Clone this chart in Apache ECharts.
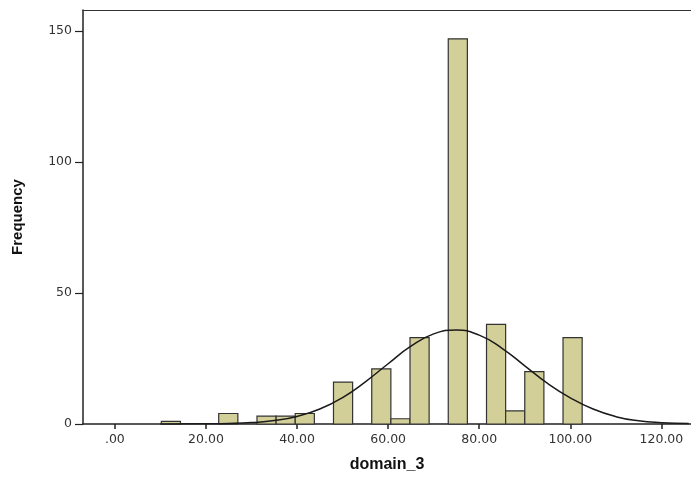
<!DOCTYPE html>
<html>
<head>
<meta charset="utf-8">
<script src="https://cdn.jsdelivr.net/npm/echarts@6/dist/echarts.min.js"></script>
<style>
  html, body { margin: 0; padding: 0; background: #fff; }
  #main { width: 691px; height: 478px; }
</style>
</head>
<body>
<div id="main"></div>
<script>
// histogram bins (start of each bin) and counts
var binWidth = 4.2;
var binStarts = [10.2, 22.8, 31.2, 35.4, 39.6, 48.0, 56.4, 60.6, 64.8, 73.2, 81.6, 85.8, 90.0, 98.4];
var counts    = [1,    4,    3,    3,    4,    16,   21,   2,    33,   147,  38,   5,    20,   33];

// fitted normal curve
var curveX = [10, 20, 25, 30, 35, 40, 45, 50, 55, 60, 65, 70, 75, 80, 85, 90, 95, 100, 105, 110, 115, 120, 126];
var curveY = [0.01, 0.07, 0.2, 0.55, 1.3, 2.9, 5.7, 10.1, 16.1, 23.0, 29.7, 34.4, 35.9, 33.9, 28.9, 22.2, 15.5, 10.0, 5.7, 2.8, 1.2, 0.5, 0.15];

var xTicks = [0, 20, 40, 60, 80, 100, 120];

var barData = binStarts.map(function (s, i) { return [s, s + binWidth, counts[i]]; });
var lineData = curveX.map(function (x, i) { return [x, curveY[i]]; });

var myChart = echarts.init(document.getElementById('main'));
var font = "'DejaVu Sans', sans-serif";

var option = {
    animation: false,
    grid: { left: 83, top: 10, right: 0, bottom: 53 },
    xAxis: [{
        type: 'value',
        min: -7, max: 126.5,
        name: 'domain_3',
        nameLocation: 'middle',
        nameGap: 33,
        nameTextStyle: { fontFamily: "'Liberation Sans', Arial, sans-serif", fontWeight: 'bold', fontSize: 16, color: '#111' },
        splitLine: { show: false },
        axisLine: { onZero: false, lineStyle: { color: '#222', width: 1.5 } },
        axisTick: { show: true, length: 5, customValues: xTicks, lineStyle: { color: '#222', width: 1.5 } },
        axisLabel: {
            customValues: xTicks,
            margin: 9,
            fontFamily: font, fontSize: 12.5, color: '#333',
            formatter: function (v) { return v === 0 ? '.00' : v.toFixed(2); }
        }
    }, {
        // top frame line
        type: 'value',
        position: 'top',
        min: -7, max: 126.5,
        splitLine: { show: false },
        axisLine: { show: true, onZero: false, lineStyle: { color: '#333', width: 1.2 } },
        axisTick: { show: false },
        axisLabel: { show: false }
    }],
    yAxis: {
        type: 'value',
        min: 0, max: 158, interval: 50,
        name: 'Frequency',
        nameLocation: 'middle',
        nameGap: 58,
        nameRotate: 90,
        nameTextStyle: { fontFamily: "'Liberation Sans Narrow', 'Liberation Sans', Arial, sans-serif", fontWeight: 'bold', fontSize: 15, color: '#111' },
        splitLine: { show: false },
        axisLine: { show: true, onZero: false, lineStyle: { color: '#222', width: 1.5 } },
        axisTick: { show: true, length: 8, lineStyle: { color: '#222', width: 1.2 } },
        axisLabel: {
            margin: 11,
            fontFamily: font, fontSize: 12.5, color: '#333',
            showMaxLabel: false
        }
    },
    series: [
        {
            type: 'custom',
            data: barData,
            encode: { x: [0, 1], y: 2 },
            renderItem: function (params, api) {
                var p0 = api.coord([api.value(0), api.value(2)]);
                var p1 = api.coord([api.value(1), 0]);
                return {
                    type: 'rect',
                    shape: { x: p0[0], y: p0[1], width: p1[0] - p0[0], height: p1[1] - p0[1] },
                    style: { fill: '#d3cf98', stroke: '#333', lineWidth: 1.2 }
                };
            },
            z: 2
        },
        {
            type: 'line',
            data: lineData,
            smooth: true,
            showSymbol: false,
            lineStyle: { color: '#1a1a1a', width: 1.5 },
            z: 3
        }
    ]
};

myChart.setOption(option);
</script>
</body>
</html>
